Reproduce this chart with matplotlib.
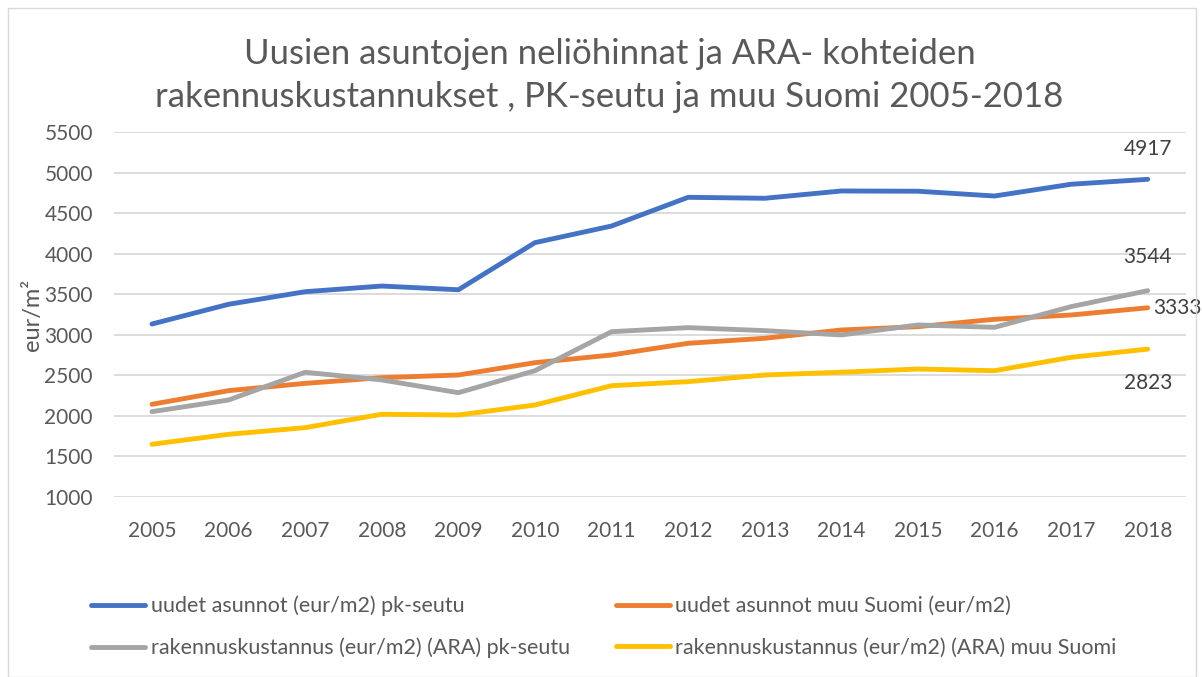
import matplotlib
matplotlib.use("Agg")
import matplotlib.pyplot as plt
from matplotlib.patches import Rectangle

years = list(range(2005, 2019))
year_labels = [str(y) for y in years]
uudet_pk = [3133, 3376, 3531, 3601, 3555, 4136, 4341, 4695, 4683, 4773, 4770, 4711, 4856, 4917]
uudet_muu = [2143, 2311, 2401, 2471, 2504, 2656, 2751, 2895, 2957, 3059, 3100, 3191, 3244, 3333]
raken_pk = [2052, 2196, 2538, 2443, 2286, 2557, 3038, 3088, 3051, 2998, 3121, 3092, 3347, 3544]
raken_muu = [1650, 1773, 1855, 2020, 2011, 2134, 2372, 2422, 2504, 2538, 2578, 2557, 2722, 2823]
series_names = ["uudet asunnot (eur/m2) pk-seutu", "uudet asunnot muu Suomi (eur/m2)",
                "rakennuskustannus (eur/m2) (ARA) pk-seutu", "rakennuskustannus (eur/m2) (ARA) muu Suomi"]
colors = ["#4472C4", "#ED7D31", "#A5A5A5", "#FFC000"]
yticks = list(range(1000, 5501, 500))

plt.rcParams['font.family'] = ['Lato', 'DejaVu Sans']
txt = "#595959"
fs = 15

fig = plt.figure(figsize=(12.02, 6.77), dpi=100)
fig.patches.append(Rectangle((0.007, 0.0), 0.988, 0.988, transform=fig.transFigure,
                             fill=False, edgecolor="#d9d9d9", linewidth=1.0))
ax = fig.add_axes([0.0946, 0.2659, 0.8921, 0.5391])
x = list(range(len(years)))
data = [uudet_pk, uudet_muu, raken_pk, raken_muu]
lines = []
for vals, c, n in zip(data, colors, series_names):
    l, = ax.plot(x, vals, color=c, lw=3.5, solid_capstyle='round', solid_joinstyle='round', label=n)
    lines.append(l)
ax.set_xlim(-0.5, len(years) - 0.5)
ax.set_ylim(1000, 5500)
ax.set_yticks(yticks)
ax.set_xticks(x)
ax.set_xticklabels(year_labels)
ax.grid(axis='y', color="#d9d9d9", lw=1.3)
ax.set_axisbelow(True)
for s in ax.spines.values():
    s.set_visible(False)
ax.tick_params(length=0, labelsize=fs, labelcolor=txt)
ax.tick_params(axis='x', pad=17)
ax.tick_params(axis='y', pad=15)
fig.text(0.027, 0.535, "eur/m²", rotation=90, ha='center', va='center', fontsize=17, color=txt)

last = len(years) - 1
lab = "#404040"
ax.annotate(str(uudet_pk[-1]), (last, uudet_pk[-1]), xytext=(0, 22), textcoords='offset points',
            ha='center', va='center', fontsize=fs, color=lab)
ax.annotate(str(raken_pk[-1]), (last, raken_pk[-1]), xytext=(0, 24), textcoords='offset points',
            ha='center', va='center', fontsize=fs, color=lab)
ax.annotate(str(uudet_muu[-1]), (last, uudet_muu[-1]), xytext=(4, 0), textcoords='offset points',
            ha='left', va='center', fontsize=fs, color=lab)
ax.annotate(str(raken_muu[-1]), (last, raken_muu[-1]), xytext=(0, -24.5), textcoords='offset points',
            ha='center', va='center', fontsize=fs, color=lab)

fig.text(0.507, 0.889, "Uusien asuntojen neliöhinnat ja ARA- kohteiden\nrakennuskustannukset , PK-seutu ja muu Suomi 2005-2018",
         ha='center', va='center', fontsize=25, color=txt, linespacing=1.42)

order = [0, 2, 1, 3]
leg = fig.legend(handles=[lines[i] for i in order], loc='center left',
                 bbox_to_anchor=(0.076, 0.074), bbox_transform=fig.transFigure,
                 ncol=2, frameon=False, fontsize=15.5, handlelength=2.5, handletextpad=0.25,
                 columnspacing=2.15, labelspacing=1.0, borderaxespad=0, borderpad=0)
for t in leg.get_texts():
    t.set_color(txt)
fig.savefig("out.png", dpi=100)
